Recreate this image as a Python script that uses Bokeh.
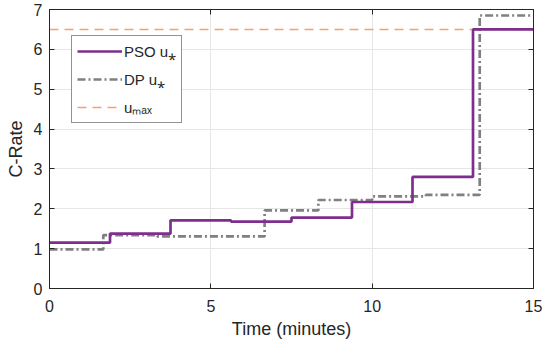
from bokeh.plotting import figure
from bokeh.models import (Range1d, LinearAxis, Legend, LegendItem, FixedTicker,
                          CustomLabelingPolicy)
from bokeh.embed import file_html
from bokeh.resources import INLINE

# data
pso_times = [0, 1.875, 3.75, 5.625, 7.5, 9.375, 11.25, 13.125, 15]
pso_values = [1.15, 1.375, 1.71, 1.68, 1.78, 2.17, 2.80, 6.50]
dp_times = [0, 1.667, 3.333, 5.0, 6.667, 8.333, 10.0, 11.667, 13.333, 15]
dp_values = [0.98, 1.34, 1.31, 1.31, 1.96, 2.22, 2.31, 2.35, 6.85]
u_max = 6.5
x_ticks = [0, 5, 10, 15]
y_ticks = [0, 1, 2, 3, 4, 5, 6, 7]

FONT = "Liberation Sans"
AX = "#262626"

p = figure(width=544, height=349, output_backend="svg", toolbar_location=None,
           x_range=Range1d(0, 15), y_range=Range1d(0, 7),
           min_border_left=49, min_border_right=11, min_border_top=9, min_border_bottom=61)
p.background_fill_color = "white"
p.border_fill_color = "white"
p.outline_line_color = AX
p.outline_line_width = 1

for ax in (p.xaxis[0], p.yaxis[0]):
    ax.major_tick_in = 5
    ax.major_tick_out = 0
    ax.minor_tick_in = 0
    ax.minor_tick_out = 0
    ax.axis_line_color = AX
    ax.major_tick_line_color = AX
    ax.major_label_text_font = FONT
    ax.major_label_text_font_size = "16px"
    ax.major_label_text_color = "#262626"
    ax.axis_label_text_font = FONT
    ax.axis_label_text_font_size = "18px"
    ax.axis_label_text_font_style = "normal"
    ax.axis_label_text_color = "#262626"

p.xaxis.ticker = FixedTicker(ticks=x_ticks)
p.yaxis.ticker = FixedTicker(ticks=y_ticks)
p.xaxis.axis_label = "Time (minutes)"
p.yaxis.axis_label = "C-Rate"
p.xaxis.major_label_standoff = 11
p.yaxis.major_label_standoff = 7
p.xaxis.axis_label_standoff = 4
p.yaxis.axis_label_standoff = 5

# top/right box axes with inward ticks and no labels
no_labels = "return new Set()"
top = LinearAxis(ticker=FixedTicker(ticks=x_ticks), major_label_text_font_size="0px",
                 major_label_policy=CustomLabelingPolicy(code=no_labels),
                 major_label_standoff=0, major_tick_in=5, major_tick_out=0,
                 minor_tick_in=0, minor_tick_out=0, axis_line_color=AX, major_tick_line_color=AX)
right = LinearAxis(ticker=FixedTicker(ticks=y_ticks), major_label_text_font_size="0px",
                   major_label_policy=CustomLabelingPolicy(code=no_labels),
                   major_label_standoff=0, major_tick_in=5, major_tick_out=0,
                   minor_tick_in=0, minor_tick_out=0, axis_line_color=AX, major_tick_line_color=AX)
p.add_layout(top, "above")
p.add_layout(right, "right")

p.xgrid.ticker = FixedTicker(ticks=x_ticks)
p.ygrid.ticker = FixedTicker(ticks=y_ticks)
p.grid.grid_line_color = "#e6e6e6"
p.grid.grid_line_width = 1

pso_y = pso_values + [pso_values[-1]]
dp_y = dp_values + [dp_values[-1]]

r_umax = p.line([0, 15], [u_max, u_max], line_color="#f4a07a", line_width=1.4, line_dash="9 6")
r_dp = p.step(dp_times, dp_y, mode="after", line_color="#808080", line_width=2.7, line_dash="8 3 2 3")
r_pso = p.step(pso_times, pso_y, mode="after", line_color="#7e2f8e", line_width=2.7)

legend = Legend(items=[LegendItem(label="PSO u⁎", renderers=[r_pso]),
                       LegendItem(label="DP u⁎", renderers=[r_dp]),
                       LegendItem(label="uₘₐₓ", renderers=[r_umax])],
                location=(22, 165), padding=5, spacing=8, glyph_width=45, glyph_height=20,
                label_height=20, label_standoff=2, margin=0,
                label_text_font=FONT, label_text_font_size="15px", label_text_color="#262626",
                border_line_color=AX, border_line_width=1, background_fill_alpha=1)
p.add_layout(legend, "center")

open("out.html", "w").write(file_html(p, INLINE))
